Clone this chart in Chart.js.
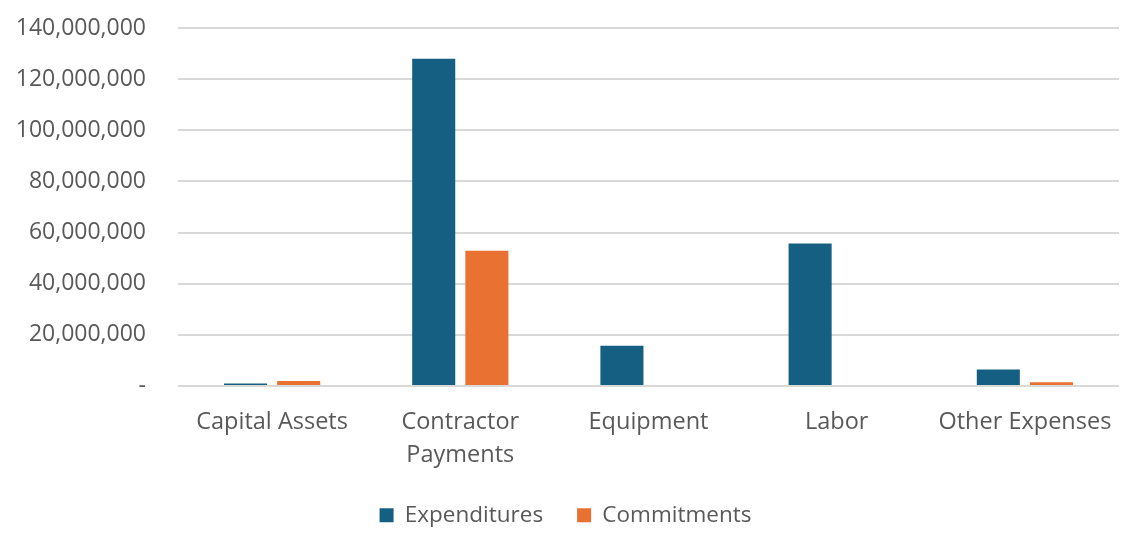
<!DOCTYPE html>
<html>
<head>
<meta charset="utf-8">
<script src="https://cdn.jsdelivr.net/npm/chart.js@4/dist/chart.umd.min.js"></script>
<style>
  html, body { margin: 0; padding: 0; background: #fff; }
  #wrap { width: 1141px; height: 534px; }
</style>
</head>
<body>
<div id="wrap"><canvas id="chart"></canvas></div>
<script>
// categories and values
const categories = ['Capital Assets', ['Contractor', 'Payments'], 'Equipment', 'Labor', 'Other Expenses'];
const expenditures = [1000000, 128000000, 15700000, 55700000, 6500000];
const commitments = [2000000, 52900000, 0, 0, 1500000];
const yTicksMax = 140000000;
const yTickStep = 20000000;

const FONT = '"Open Sans", "Liberation Sans", sans-serif';
const TEXT = '#595959';

// keep the legend box short while using wide spacing between its items
const legendHeight = {
    id: 'legendHeight',
    beforeInit(chart) {
        const fit = chart.legend.fit;
        chart.legend.fit = function () {
            fit.bind(chart.legend)();
            this.height = 64;
        };
    }
};

const ctx = document.getElementById('chart').getContext('2d');
new Chart(ctx, {
    type: 'bar',
    data: {
        labels: categories,
        datasets: [
            { label: 'Expenditures', data: expenditures, backgroundColor: '#156082', barPercentage: 0.81, categoryPercentage: 0.565 },
            { label: 'Commitments', data: commitments, backgroundColor: '#E97132', barPercentage: 0.81, categoryPercentage: 0.565 }
        ]
    },
    plugins: [legendHeight],
    options: {
        responsive: true,
        maintainAspectRatio: false,
        animation: false,
        layout: { padding: { left: 12, right: 22, top: 28, bottom: 0 } },
        plugins: {
            legend: {
                position: 'bottom',
                labels: { boxWidth: 14, boxHeight: 14, padding: 34, color: TEXT, font: { family: FONT, size: 22.5 } }
            },
            tooltip: { enabled: false }
        },
        scales: {
            x: {
                grid: { display: false },
                border: { display: false },
                afterFit: scale => { scale.height = 84; },
                ticks: { color: TEXT, padding: 12, font: { family: FONT, size: 23.5, lineHeight: 1.4 }, maxRotation: 0 }
            },
            y: {
                min: 0,
                max: yTicksMax,
                border: { display: false },
                grid: { color: '#d9d9d9', lineWidth: 2, drawTicks: false },
                afterFit: scale => {
                    scale.width = 166;
                    scale.paddingTop = 0;
                    scale.paddingBottom = 0;
                },
                ticks: {
                    stepSize: yTickStep,
                    padding: 32,
                    color: TEXT,
                    font: { family: FONT, size: 23 },
                    callback: v => v === 0 ? '-' : v.toLocaleString('en-US')
                }
            }
        }
    }
});
</script>
</body>
</html>
